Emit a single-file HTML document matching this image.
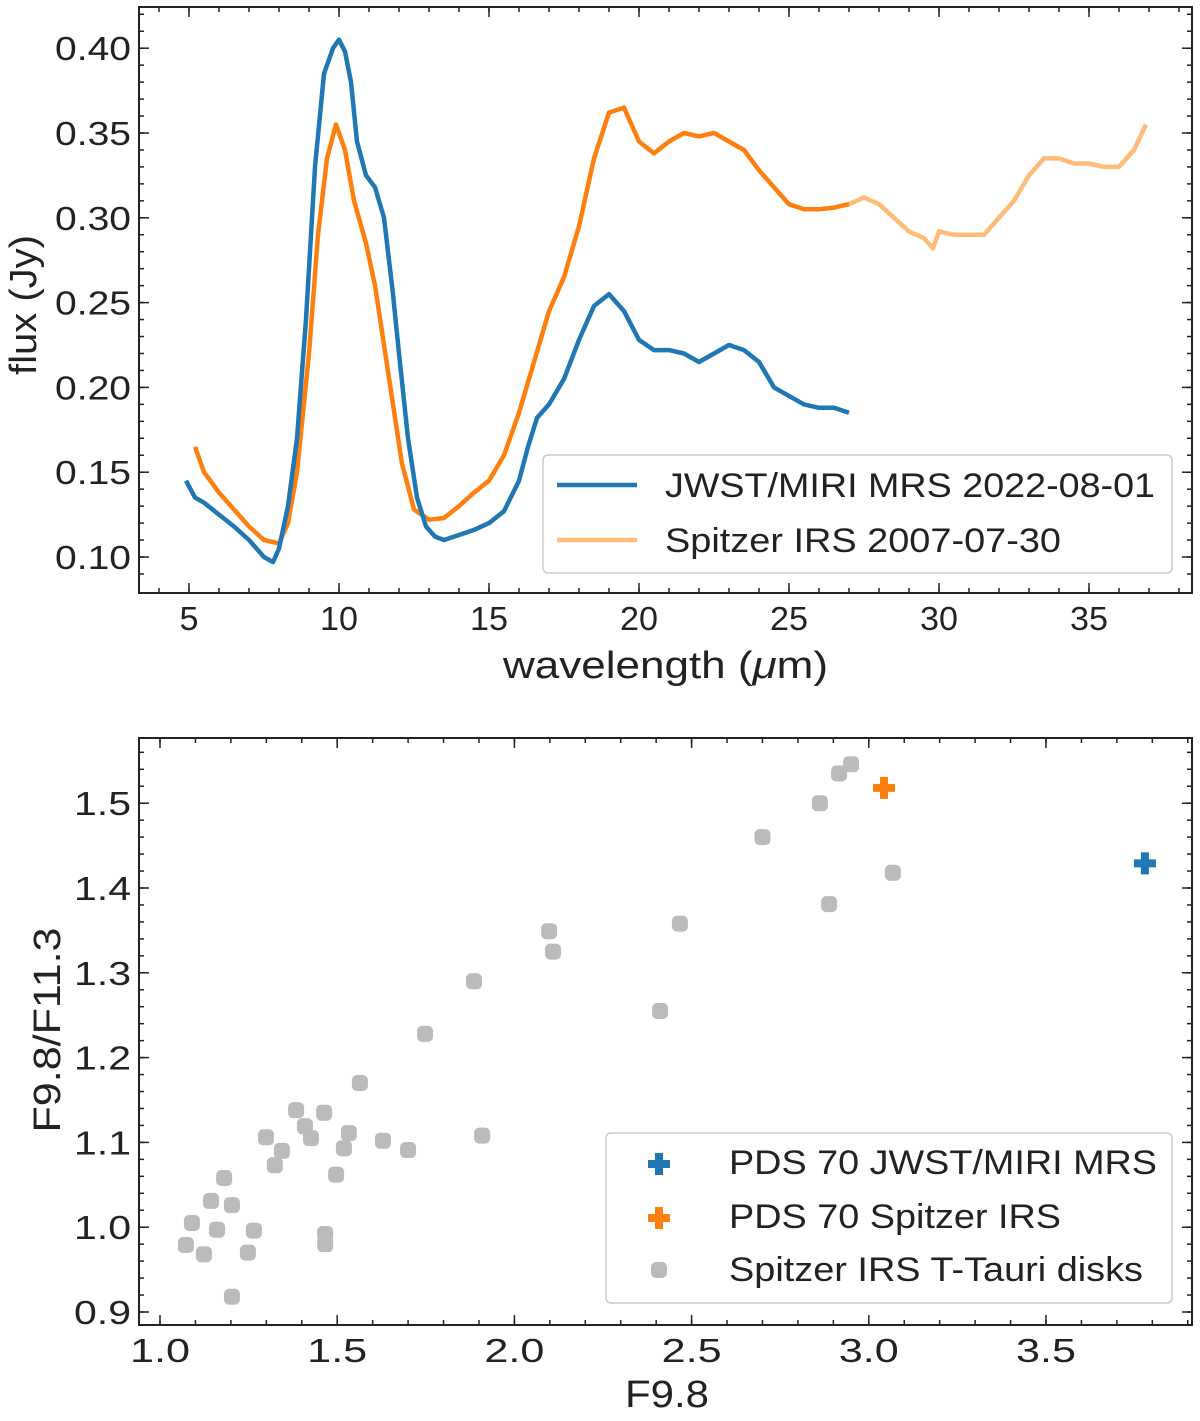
<!DOCTYPE html>
<html><head><meta charset="utf-8"><style>
body{margin:0;background:#fff;}
svg text{font-family:"Liberation Sans",sans-serif;fill:#222;}
</style></head><body>
<svg id="fig" width="1200" height="1416" xmlns="http://www.w3.org/2000/svg">
<g id="topPanel"></g>
<g id="botPanel"></g>
</svg>
<script>
// ---- top panel data ----
const jwstWave=[4.9,5.2,5.5,6,6.5,7,7.5,7.8,8.0,8.3,8.6,8.9,9.2,9.5,9.8,10.0,10.2,10.4,10.6,10.9,11.2,11.5,11.8,12.0,12.3,12.6,12.9,13.2,13.5,14,14.5,15,15.5,16.0,16.3,16.6,17,17.5,18,18.5,19,19.5,20,20.5,21,21.5,22,22.5,23,23.5,24,24.5,25,25.5,26,26.5,27];
const jwstFlux=[0.145,0.135,0.132,0.125,0.118,0.110,0.100,0.097,0.105,0.130,0.17,0.24,0.33,0.385,0.400,0.405,0.398,0.38,0.345,0.325,0.318,0.300,0.255,0.22,0.17,0.135,0.118,0.112,0.110,0.113,0.116,0.120,0.127,0.145,0.165,0.182,0.19,0.205,0.228,0.248,0.255,0.245,0.228,0.222,0.222,0.220,0.215,0.220,0.225,0.222,0.215,0.200,0.195,0.190,0.188,0.188,0.185];
const spitzerWave=[5.2,5.5,6,6.5,7,7.5,8,8.3,8.6,9,9.3,9.6,9.9,10.2,10.5,10.9,11.2,11.5,11.8,12.1,12.5,13,13.5,14,14.5,15,15.5,16,16.5,17,17.5,18,18.5,19,19.5,20,20.5,21,21.5,22,22.5,23,23.5,24,24.5,25,25.5,26,26.5,27];
const spitzerFlux=[0.165,0.150,0.138,0.128,0.118,0.110,0.108,0.120,0.15,0.22,0.29,0.335,0.355,0.34,0.31,0.285,0.26,0.225,0.19,0.155,0.128,0.122,0.123,0.130,0.138,0.145,0.160,0.185,0.215,0.245,0.265,0.295,0.335,0.362,0.365,0.345,0.338,0.345,0.350,0.348,0.350,0.345,0.340,0.328,0.318,0.308,0.305,0.305,0.306,0.308];
const spitzerLongWave=[27,27.5,28,28.5,29,29.5,29.8,30,30.5,31,31.5,32,32.5,33,33.5,34,34.5,35,35.5,36,36.5,36.9];
const spitzerLongFlux=[0.308,0.312,0.308,0.300,0.292,0.288,0.282,0.292,0.290,0.290,0.290,0.300,0.310,0.325,0.335,0.335,0.332,0.332,0.33,0.33,0.34,0.355];
const topXTicks=[5,10,15,20,25,30,35];
const topYTicks=[0.10,0.15,0.20,0.25,0.30,0.35,0.40];
// ---- bottom panel data ----
const diskF98=[2.95,2.916,2.862,2.70,3.068,2.888,2.467,2.098,2.109,1.886,2.411,1.748,1.564,1.384,1.463,1.409,1.426,1.299,1.533,1.909,1.629,1.519,1.700,1.344,1.324,1.497,1.181,1.144,1.203,1.090,1.161,1.265,1.466,1.466,1.073,1.124,1.248,1.203];
const diskRatio=[1.546,1.535,1.50,1.46,1.418,1.381,1.358,1.349,1.325,1.290,1.255,1.228,1.170,1.138,1.135,1.119,1.105,1.106,1.111,1.108,1.102,1.093,1.091,1.090,1.073,1.062,1.058,1.031,1.026,1.005,0.997,0.996,0.992,0.980,0.979,0.968,0.970,0.918];
const pdsF98=[3.779,3.043];
const pdsRatio=[1.429,1.518];
const botXTicks=[1.0,1.5,2.0,2.5,3.0,3.5];
const botYTicks=[0.9,1.0,1.1,1.2,1.3,1.4,1.5];

const NS="http://www.w3.org/2000/svg";
function mk(parent,tag,attrs,txt){const e=document.createElementNS(NS,tag);for(const k in attrs)e.setAttribute(k,attrs[k]);if(txt!==undefined)e.textContent=txt;parent.appendChild(e);return e;}
const blue="#1f77b4",orange="#ff7f0e",lorange="#ffbb78";

const T={x0:139,x1:1192,y0:7,y1:593};
const tx=v=>39+v*30.0;
const ty=v=>557-(v-0.10)/0.05*84.8;
const B={x0:139,x1:1192,y0:738,y1:1325};
const bx=v=>160+(v-1.0)*354.4;
const by=v=>1312-(v-0.9)*848;

function frame(g,A,xmin,xmax,xstep,ymin,ymax,ystep,fx,fy,xt,yt,fmtx,fmty,xw,yw){
  const ticks=mk(g,'g',{stroke:'#222','stroke-width':1.5});
  
  
  for(let v=xmin;v<=xmax+1e-9;v+=xstep){const x=fx(v);if(x<A.x0||x>A.x1)continue;
    mk(ticks,'line',{x1:x,x2:x,y1:A.y1,y2:A.y1-5});mk(ticks,'line',{x1:x,x2:x,y1:A.y0,y2:A.y0+5});}
  for(let v=ymin;v<=ymax+1e-9;v+=ystep){const y=fy(v);if(y<A.y0||y>A.y1)continue;
    mk(ticks,'line',{x1:A.x0,x2:A.x0+5,y1:y,y2:y});mk(ticks,'line',{x1:A.x1,x2:A.x1-5,y1:y,y2:y});}
  xt.forEach(v=>{const x=fx(v);mk(ticks,'line',{x1:x,x2:x,y1:A.y1,y2:A.y1-10});mk(ticks,'line',{x1:x,x2:x,y1:A.y0,y2:A.y0+10});
    const s=fmtx(v);
    const t=mk(g,'text',{x:x,y:A.y1+37,'text-anchor':'middle','font-size':33,textLength:xw*s.length,lengthAdjust:'spacingAndGlyphs'},s);
    
    });
  yt.forEach(v=>{const y=fy(v);mk(ticks,'line',{x1:A.x0,x2:A.x0+10,y1:y,y2:y});mk(ticks,'line',{x1:A.x1,x2:A.x1-10,y1:y,y2:y});
    const s=fmty(v);
    const t=mk(g,'text',{x:A.x0-8,y:y+12,'text-anchor':'end','font-size':33,textLength:yw*s.length,lengthAdjust:'spacingAndGlyphs'},s);
    
    });
  const r=mk(g,'rect',{x:A.x0,y:A.y0,width:A.x1-A.x0,height:A.y1-A.y0,fill:'none',stroke:'#222','stroke-width':2});
  
  
}
function line(g,xs,ys,fx,fy,color,name){
  let d='';xs.forEach((v,i)=>{d+=(i?'L':'M')+fx(v).toFixed(1)+','+fy(ys[i]).toFixed(1);});
  const p=mk(g,'path',{d:d,fill:'none',stroke:color,'stroke-width':4.5,'stroke-linejoin':'round'});
  
  
}
const topG=document.getElementById('topPanel');
line(topG,spitzerLongWave,spitzerLongFlux,tx,ty,lorange,'spitzer-long-line');
line(topG,spitzerWave,spitzerFlux,tx,ty,orange,'spitzer-line');
line(topG,jwstWave,jwstFlux,tx,ty,blue,'jwst-line');
frame(topG,T,4,38,1,0.09,0.42,0.01,tx,ty,topXTicks,topYTicks,v=>String(v),v=>v.toFixed(2),19,19);
let t=mk(topG,'text',{x:503,y:678,'font-size':38,textLength:325,lengthAdjust:'spacingAndGlyphs'});
mk(t,'tspan',{},'wavelength (');
mk(t,'tspan',{'font-style':'italic'},'μ');
mk(t,'tspan',{},'m)');


t=mk(topG,'text',{x:0,y:0,'text-anchor':'middle','font-size':38,textLength:140,lengthAdjust:'spacingAndGlyphs',transform:'translate(36,305) rotate(-90)'},'flux (Jy)');


let lg=mk(topG,'g',{});


mk(lg,'rect',{x:543,y:455,width:629,height:118,rx:5,fill:'#fff',stroke:'#ccc','stroke-width':1.5});
mk(lg,'line',{x1:557,x2:637,y1:485,y2:485,stroke:blue,'stroke-width':4.5});
t=mk(lg,'text',{x:665,y:497,'font-size':34,textLength:490,lengthAdjust:'spacingAndGlyphs'},'JWST/MIRI MRS 2022-08-01');


mk(lg,'line',{x1:557,x2:637,y1:540,y2:540,stroke:lorange,'stroke-width':4.5});
t=mk(lg,'text',{x:665,y:552,'font-size':34,textLength:396,lengthAdjust:'spacingAndGlyphs'},'Spitzer IRS 2007-07-30');



const botG=document.getElementById('botPanel');
function plus(g,x,y,c,name){const p=mk(g,'path',{d:`M${x-4},${y-11}h8v7h7v8h-7v7h-8v-7h-7v-8h7z`,fill:c});
  
  }
diskF98.forEach((v,i)=>{const c=mk(botG,'rect',{x:bx(v)-8,y:by(diskRatio[i])-8,width:16,height:16,rx:5,fill:'#bbbbbb'});
  
  });
plus(botG,bx(pdsF98[0]),by(pdsRatio[0]),blue,'pds70-jwst-point');
plus(botG,bx(pdsF98[1]),by(pdsRatio[1]),orange,'pds70-spitzer-point');
frame(botG,B,1.0,3.9,0.1,0.88,1.56,0.02,bx,by,botXTicks,botYTicks,v=>v.toFixed(1),v=>v.toFixed(1),20,19);
t=mk(botG,'text',{x:625,y:1407,'font-size':38,textLength:84,lengthAdjust:'spacingAndGlyphs'},'F9.8');


t=mk(botG,'text',{x:0,y:0,'text-anchor':'middle','font-size':38,textLength:205,lengthAdjust:'spacingAndGlyphs',transform:'translate(60,1030) rotate(-90)'},'F9.8/F11.3');


lg=mk(botG,'g',{});


mk(lg,'rect',{x:606,y:1133,width:566,height:170,rx:5,fill:'#fff',stroke:'#ccc','stroke-width':1.5});
plus(lg,659,1164,blue,'legend-marker');
t=mk(lg,'text',{x:729,y:1174,'font-size':34,textLength:428,lengthAdjust:'spacingAndGlyphs'},'PDS 70 JWST/MIRI MRS');


plus(lg,659,1218,orange,'legend-marker');
t=mk(lg,'text',{x:729,y:1228,'font-size':34,textLength:332,lengthAdjust:'spacingAndGlyphs'},'PDS 70 Spitzer IRS');


mk(lg,'rect',{x:651,y:1262,width:16,height:16,rx:5,fill:'#bbbbbb'});
t=mk(lg,'text',{x:729,y:1281,'font-size':34,textLength:414,lengthAdjust:'spacingAndGlyphs'},'Spitzer IRS T-Tauri disks');


</script>
</body></html>
